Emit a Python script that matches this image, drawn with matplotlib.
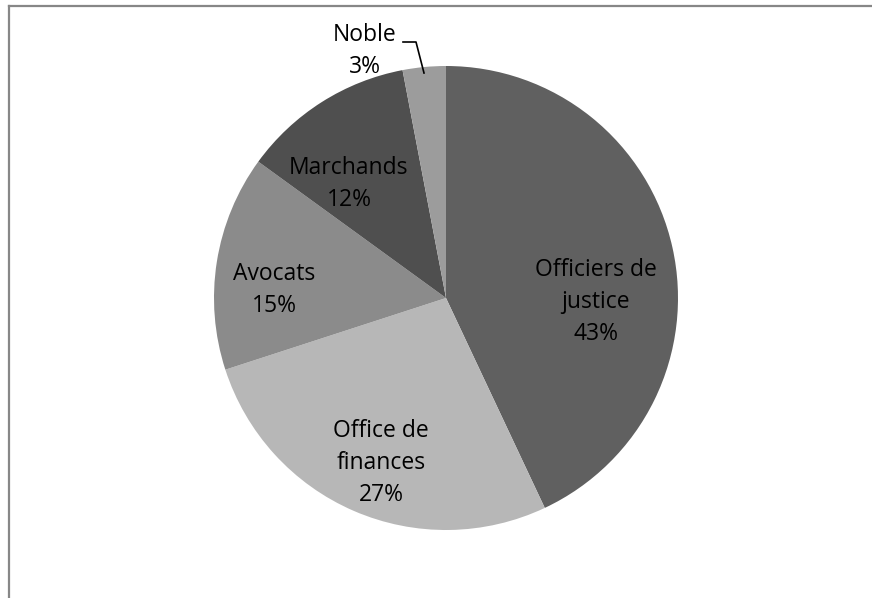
import matplotlib.pyplot as plt
from matplotlib.lines import Line2D

# data (clockwise from 12 o'clock)
labels = ['Officiers de\njustice', 'Office de\nfinances', 'Avocats', 'Marchands', 'Noble']
shares = [43, 27, 15, 12, 3]
colors = ['#606060', '#b7b7b7', '#8b8b8b', '#4f4f4f', '#9c9c9c']

W, H = 872, 598
cx, cy, r = 446, 298, 232

fig = plt.figure(figsize=(W / 100, H / 100), dpi=100)
ax = fig.add_axes([0, 0, 1, 1])

ax.pie(shares, colors=colors, startangle=90, counterclock=False,
       radius=1, center=(0, 0), wedgeprops=dict(linewidth=0))

ax.set_xlim(-cx / r, (W - cx) / r)
ax.set_ylim(-(H - cy) / r, cy / r)
ax.set_aspect('equal')
ax.axis('off')

# label positions in pixels (label centres)
label_px = [(596, 302), (381, 463), (274, 290), (349, 184), (365, 51)]
for lab, val, (px, py) in zip(labels, shares, label_px):
    ax.text((px - cx) / r, (cy - py) / r, f'{lab}\n{val}%', ha='center', va='center',
            fontsize=16.5, family='Open Sans', color='black', linespacing=1.45)

# leader line for the Noble slice
lx = [(403 - cx) / r, (416 - cx) / r, (424 - cx) / r]
ly = [(cy - 42) / r, (cy - 42) / r, (cy - 73) / r]
ax.plot(lx, ly, color='black', lw=1.2)

# frame around chart area (top and left visible)
fig.add_artist(Line2D([8.5 / W, 1], [1 - 5.5 / H, 1 - 5.5 / H], color='#878787', lw=1.6,
                      transform=fig.transFigure))
fig.add_artist(Line2D([8.5 / W, 8.5 / W], [0, 1 - 5.5 / H], color='#878787', lw=1.6,
                      transform=fig.transFigure))

fig.savefig('out.png', dpi=100)
